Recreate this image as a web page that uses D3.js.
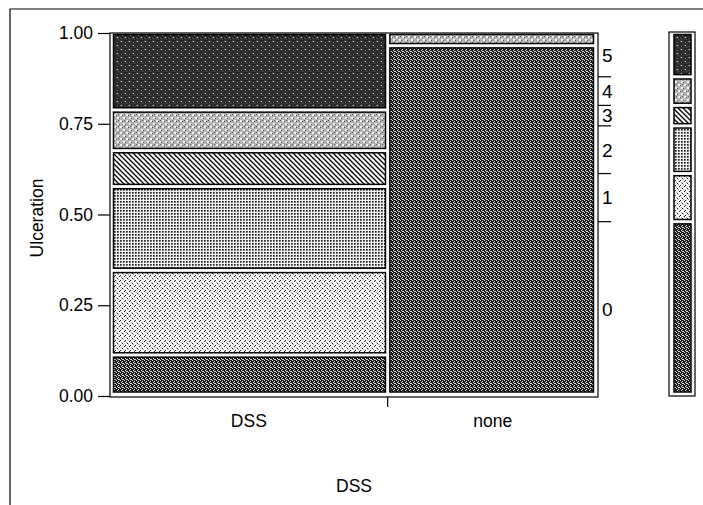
<!DOCTYPE html>
<html>
<head>
<meta charset="utf-8">
<script src="https://cdn.jsdelivr.net/npm/d3@7"></script>
<style>
  body { margin: 0; background: #fff; }
  svg text { font-family: "Liberation Sans", Arial, sans-serif; fill: #000; }
</style>
</head>
<body>
<div id="chart"></div>
<script>
const groups = ['DSS', 'none'];
const groupShare = [0.569, 0.431];          // column widths
const levels = ['0', '1', '2', '3', '4', '5'];
const dssShares = [0.113, 0.233, 0.231, 0.099, 0.112, 0.212];
const noneShares = [0.965, 0, 0, 0, 0.035, 0];
const yTicks = [0, 0.25, 0.5, 0.75, 1];

const shares = [dssShares, noneShares];

const W = 703, H = 505;
const margin = {top: 33, right: 105, bottom: 108, left: 110};
const plotL = margin.left, plotR = W - margin.right,
  plotT = margin.top, plotB = H - margin.bottom;
const fontSize = '17.5px';

const svg = d3.select('#chart').append('svg')
  .attr('width', W).attr('height', H);

// fill patterns, one per level
const defs = svg.append('defs');
function pattern(id, w, h, bg, draw) {
  const p = defs.append('pattern').attr('id', id)
    .attr('patternUnits', 'userSpaceOnUse').attr('width', w).attr('height', h);
  p.append('rect').attr('width', w).attr('height', h).attr('fill', bg);
  draw(p);
}
function px(p, pts, c, s) {
  pts.forEach(([x, y]) => p.append('rect').attr('x', x).attr('y', y)
    .attr('width', s || 1).attr('height', s || 1).attr('fill', c));
}
pattern('pat0', 4, 4, '#1c1c1c', p => px(p, [[0, 0], [2, 1], [1, 2], [3, 3], [2, 3]], '#d8d8d8'));
pattern('pat1', 5, 5, '#f6f6f6', p => { px(p, [[0, 0], [2, 3], [4, 1]], '#222'); px(p, [[3, 4], [1, 2]], '#aaa'); });
pattern('pat2', 3, 3, '#f2f2f2', p => px(p, [[0, 0]], '#222', 1.7));
pattern('pat3', 5, 5, '#fff', p => {
  p.append('path').attr('d', 'M-1,-1L6,6M-1,4L1,6M4,-1L6,1')
    .attr('stroke', '#000').attr('stroke-width', 1.3);
});
pattern('pat4', 6, 6, '#b4b4b4', p => {
  px(p, [[0, 0], [3, 3]], '#f4f4f4', 2);
  px(p, [[2, 1], [5, 4], [4, 0]], '#555');
});
pattern('pat5', 8, 8, '#2c2c2c', p => {
  px(p, [[0, 1], [2, 3], [4, 5], [6, 7], [1, 6], [5, 2]], '#5a5a5a');
  px(p, [[1, 1], [5, 5]], '#f0f0f0');
});

// outer frame
svg.append('path').attr('d', `M10,${H}V9H${W}`)
  .attr('fill', 'none').attr('stroke', '#000').attr('stroke-width', 1.2);

// scales
const x = d3.scaleLinear().domain([0, 1]).range([plotL, plotR]);
const y = d3.scaleLinear().domain([0, 1]).range([plotB - 1, plotT]);

const colEdges = [0, ...d3.cumsum(groupShare)];

// plot box
svg.append('rect').attr('x', plotL).attr('y', plotT)
  .attr('width', plotR - plotL).attr('height', plotB - plotT)
  .attr('fill', 'none').attr('stroke', '#000').attr('stroke-width', 1.2);

// mosaic tiles
const gap = 2.2;
const tiles = [];
groups.forEach((g, gi) => {
  const cum = [0, ...d3.cumsum(shares[gi])];
  levels.forEach((lv, li) => {
    if (shares[gi][li] <= 0) return;
    tiles.push({g, li, x0: colEdges[gi], x1: colEdges[gi + 1], y0: cum[li], y1: cum[li + 1]});
  });
});
svg.append('g').selectAll('rect').data(tiles).enter().append('rect')
  .attr('x', d => x(d.x0) + (d.x0 === 0 ? 3.5 : gap))
  .attr('y', d => y(d.y1) + (d.y1 >= 0.999 ? 1.5 : gap))
  .attr('width', d => x(d.x1) - x(d.x0) - (d.x0 === 0 ? 3.5 : gap) - (d.x1 >= 0.999 ? 4.5 : gap))
  .attr('height', d => y(d.y0) - y(d.y1) - (d.y1 >= 0.999 ? 1.5 : gap) - (d.y0 === 0 ? 4 : gap))
  .attr('fill', d => `url(#pat${d.li})`)
  .attr('stroke', '#000').attr('stroke-width', 1.5);

// left axis
const yAxis = svg.append('g').attr('transform', `translate(${plotL},0)`)
  .call(d3.axisLeft(y).tickValues(yTicks).tickFormat(d3.format('.2f')).tickSize(12).tickPadding(5));
yAxis.select('.domain').remove();
yAxis.selectAll('line').attr('stroke', '#000').attr('stroke-width', 1.2);
yAxis.selectAll('text').style('font-size', fontSize).style('font-family', '"Liberation Sans", Arial, sans-serif');

// bottom axis: tick between columns, group labels centred
const xAxis = svg.append('g').attr('transform', `translate(0,${plotB})`);
xAxis.append('line')
  .attr('x1', x(colEdges[1])).attr('x2', x(colEdges[1]))
  .attr('y1', 0).attr('y2', 10).attr('stroke', '#000').attr('stroke-width', 1.2);
xAxis.selectAll('text').data(groups).enter().append('text')
  .attr('x', (d, i) => x((colEdges[i] + colEdges[i + 1]) / 2))
  .attr('y', 30).attr('text-anchor', 'middle').style('font-size', fontSize)
  .text(d => d);

// right axis: marginal proportions
const marg = levels.map((lv, li) => d3.sum(groups, (g, gi) => groupShare[gi] * shares[gi][li]));
const margCum = [0, ...d3.cumsum(marg)];
const rAxis = svg.append('g').attr('transform', `translate(${plotR},0)`);
rAxis.selectAll('line').data(margCum.slice(1, -1)).enter().append('line')
  .attr('x1', 0).attr('x2', 13).attr('y1', d => y(d)).attr('y2', d => y(d))
  .attr('stroke', '#000').attr('stroke-width', 1.2);
rAxis.selectAll('text').data(levels).enter().append('text')
  .attr('x', 4).attr('y', (d, i) => (y(margCum[i]) + y(margCum[i + 1])) / 2)
  .attr('dy', '0.36em').style('font-size', '19px')
  .text(d => d);

// legend strip
const legX0 = 669, legX1 = 695;
const ly = d3.scaleLinear().domain([0, 1]).range([plotB - 1, plotT]);
svg.append('rect').attr('x', legX0).attr('y', plotT - 1)
  .attr('width', legX1 - legX0).attr('height', plotB - plotT)
  .attr('fill', 'none').attr('stroke', '#000').attr('stroke-width', 1.2);
svg.append('g').selectAll('rect').data(levels).enter().append('rect')
  .attr('x', legX0 + 5).attr('width', legX1 - legX0 - 9)
  .attr('y', (d, i) => ly(margCum[i + 1]) + (i === levels.length - 1 ? 1.5 : gap))
  .attr('height', (d, i) => ly(margCum[i]) - ly(margCum[i + 1]) - (i === levels.length - 1 ? 1.5 : gap) - (i === 0 ? 4 : gap))
  .attr('fill', (d, i) => `url(#pat${i})`)
  .attr('stroke', '#000').attr('stroke-width', 1.5);

// titles
svg.append('text')
  .attr('transform', `translate(43,${(plotT + plotB) / 2 + 3}) rotate(-90)`)
  .attr('text-anchor', 'middle').style('font-size', fontSize)
  .text('Ulceration');
svg.append('text')
  .attr('x', (plotL + plotR) / 2).attr('y', 492)
  .attr('text-anchor', 'middle').style('font-size', fontSize)
  .text('DSS');
</script>
</body>
</html>
